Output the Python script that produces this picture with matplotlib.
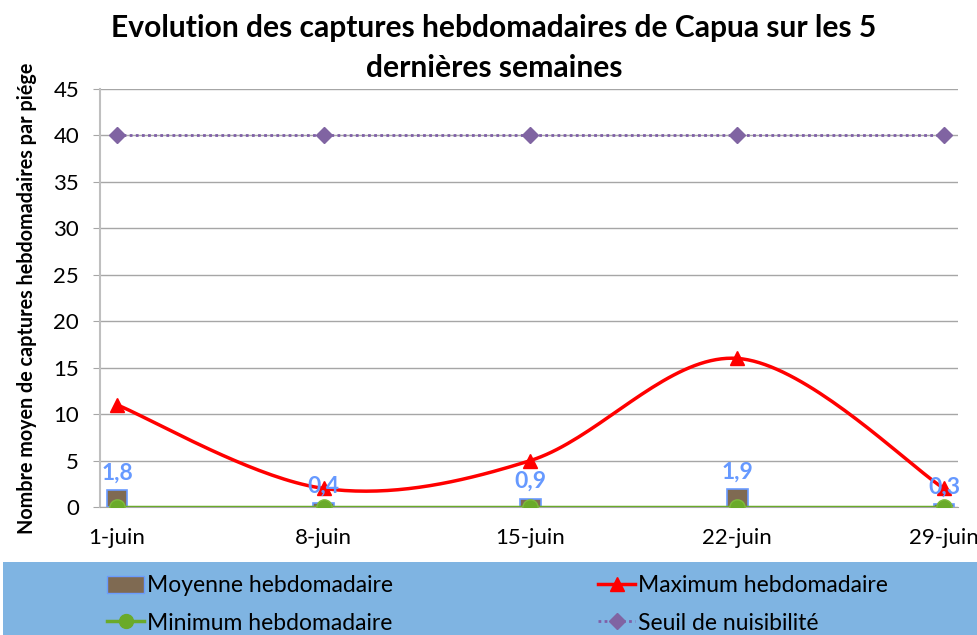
import numpy as np
import matplotlib
matplotlib.use("Agg")
import matplotlib.pyplot as plt
from matplotlib.patches import Rectangle, Patch
from matplotlib.lines import Line2D

plt.rcParams['font.family'] = ['Lato', 'DejaVu Sans']

categories = ["1-juin", "8-juin", "15-juin", "22-juin", "29-juin"]
moyenne = [1.8, 0.4, 0.9, 1.9, 0.3]
maximum = [11, 2, 5, 16, 2]
minimum = [0, 0, 0, 0, 0]
seuil = [40, 40, 40, 40, 40]
mean_labels = ["1,8", "0,4", "0,9", "1,9", "0,3"]
yticks = [0, 5, 10, 15, 20, 25, 30, 35, 40, 45]

W, H = 978, 635
fig = plt.figure(figsize=(W / 100, H / 100), dpi=100)
ax = fig.add_axes([100 / W, 1 - 507 / H, (958 - 100) / W, (507 - 89) / H])

x = np.arange(len(categories))


def smooth(xs, ys, n=40):
    xs = np.asarray(xs, float)
    ys = np.asarray(ys, float)
    P = np.column_stack([xs, ys])
    out = []
    for i in range(len(P) - 1):
        p0 = P[i - 1] if i > 0 else P[i]
        p1 = P[i]
        p2 = P[i + 1]
        p3 = P[i + 2] if i + 2 < len(P) else P[i + 1]
        c1 = p1 + (p2 - p0) / 6
        c2 = p2 - (p3 - p1) / 6
        t = np.linspace(0, 1, n)[:, None]
        seg = ((1 - t) ** 3) * p1 + 3 * ((1 - t) ** 2) * t * c1 + 3 * (1 - t) * t ** 2 * c2 + t ** 3 * p2
        out.append(seg if i == 0 else seg[1:])
    s = np.vstack(out)
    return s[:, 0], s[:, 1]


grid_c = '#A6A6A6'
ax.set_axisbelow(True)
ax.yaxis.grid(True, color=grid_c, linewidth=1)

bar_c = '#7F6A52'
bar_edge = '#6A9BFF'
ax.bar(x, moyenne, width=0.1, color=bar_c, edgecolor=bar_edge, linewidth=1.2, zorder=2)

# Seuil
ax.plot(x, seuil, color='#7F5FA8', linestyle=(0, (1, 1.2)), linewidth=2, zorder=3)
ax.plot(x, seuil, linestyle='none', marker='D', markersize=8, color='#8064A2', zorder=4)

# Maximum smooth
sx, sy = smooth(x, maximum)
ax.plot(sx, sy, color='#FF0000', linewidth=2.5, zorder=3)
ax.plot(x, maximum, linestyle='none', marker='^', markersize=10, color='#FF0000', zorder=4)

# Minimum
ax.plot(x, minimum, color='#6AAA2A', linewidth=2.5, marker='o', markersize=11,
        markeredgecolor='#7DBA3C', zorder=5)

for xi, v, lab in zip(x, moyenne, mean_labels):
    ax.annotate(lab, (xi, v), xytext=(0, 17), textcoords='offset pixels',
                ha='center', va='center', color='#6699FF', fontsize=16.5, fontweight='bold', zorder=6)

ax.set_xlim(-0.082, 4.068)
ax.set_ylim(0, 45)
ax.set_yticks(yticks)
ax.set_xticks(x)
ax.set_xticklabels(categories)
ax.tick_params(axis='x', length=0, pad=15, labelsize=16)
ax.tick_params(axis='y', length=5, color=grid_c, pad=10, labelsize=16)
for s in ['top', 'right']:
    ax.spines[s].set_visible(False)
ax.spines['left'].set_color('#BFBFBF')
ax.spines['left'].set_linewidth(1.5)
ax.spines['bottom'].set_color(grid_c)

ax.set_ylabel("Nombre moyen de captures hebdomadaires par piége", fontsize=14.2, fontweight='bold', labelpad=12)

fig.text(0.505, 1 - 28 / H, "Evolution des captures hebdomadaires de Capua sur les 5",
         ha='center', va='center', fontsize=21.6, fontweight='bold')
fig.text(0.505, 1 - 68 / H, "dernières semaines",
         ha='center', va='center', fontsize=21.6, fontweight='bold')

# legend background
fig.patches.append(Rectangle((3 / W, 0), 1, (H - 562) / H, transform=fig.transFigure,
                             facecolor='#7FB4E2', edgecolor='none', zorder=0))

h_moy = Patch(facecolor=bar_c, edgecolor=bar_edge)
h_max = Line2D([], [], color='#FF0000', linewidth=2.5, marker='^', markersize=10)
h_min = Line2D([], [], color='#6AAA2A', linewidth=2.5, marker='o', markersize=10)
h_seu = Line2D([], [], color='#7F5FA8', linewidth=2, linestyle=(0, (1, 1.2)), marker='D', markersize=8,
               markerfacecolor='#8064A2', markeredgecolor='#8064A2')

common = dict(frameon=False, fontsize=16.5, borderpad=0, handlelength=1.6, handletextpad=0.12,
              labelspacing=0.7, handleheight=0.8)
leg1 = fig.legend([h_moy, h_min], ["Moyenne hebdomadaire", "Minimum hebdomadaire"],
                  loc='upper left', bbox_to_anchor=(96 / W, 1 - 564 / H), **common)
leg2 = fig.legend([h_max, h_seu], ["Maximum hebdomadaire", "Seuil de nuisibilité"],
                  loc='upper left', bbox_to_anchor=(587 / W, 1 - 564 / H), **common)

fig.savefig("out.png", dpi=100, facecolor='white')
